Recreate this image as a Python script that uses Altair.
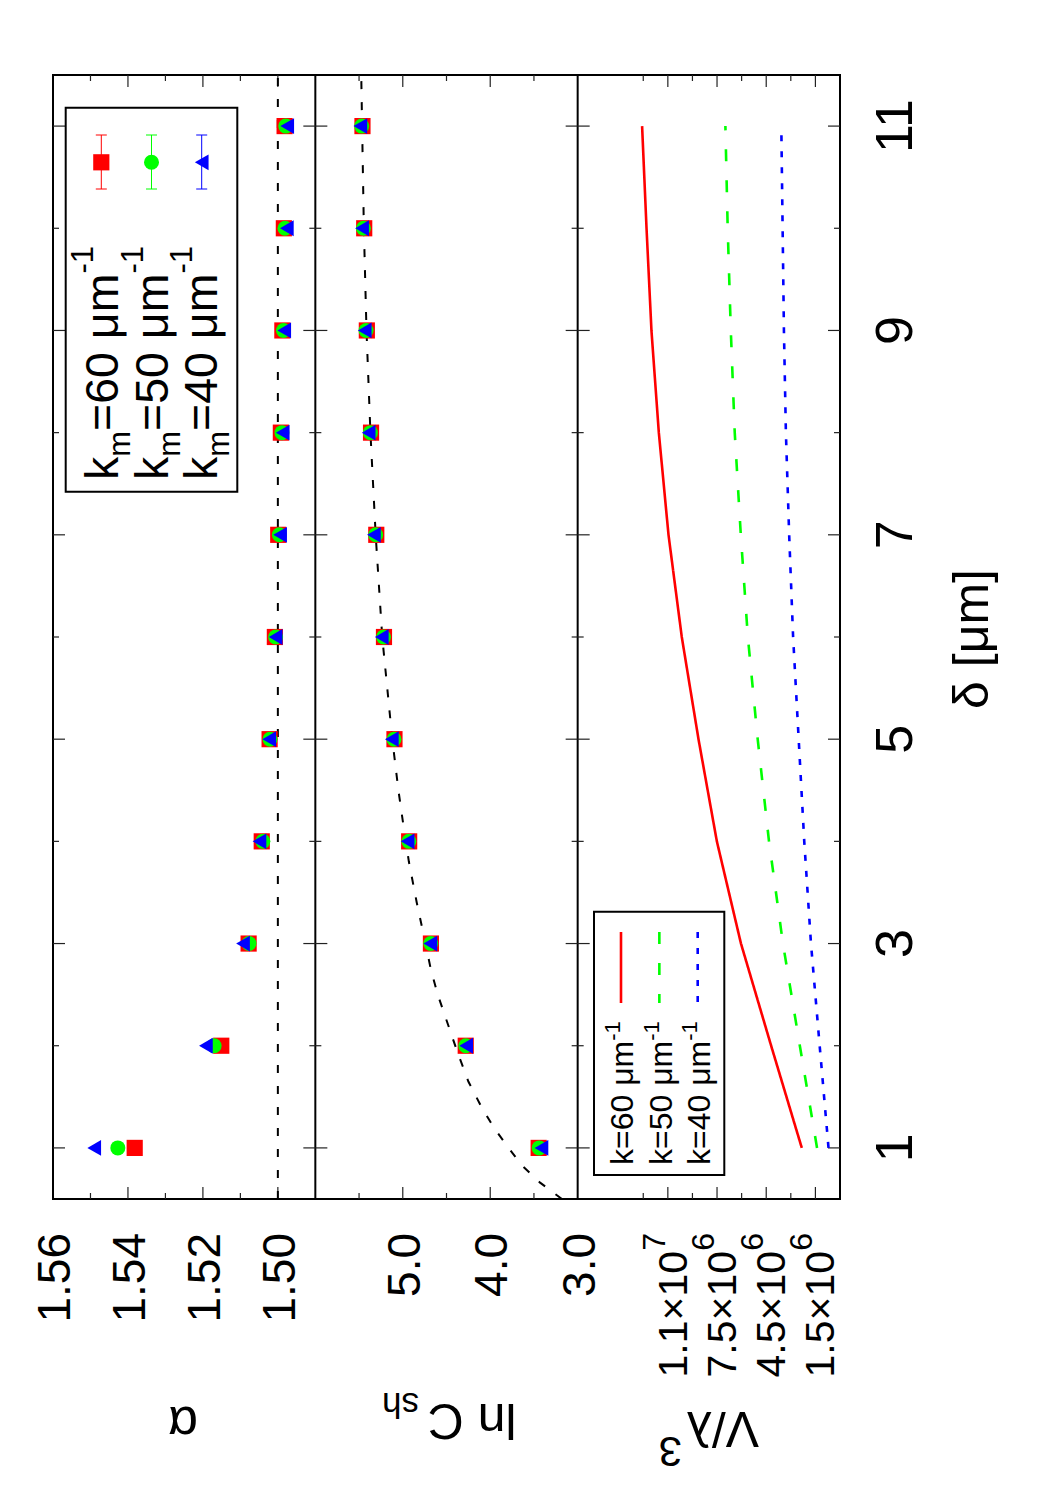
import altair as alt
import pandas as pd

# ---------------- data ----------------
delta = [1, 2, 3, 4, 5, 6, 7, 8, 9, 10, 11]

alpha_k60 = [1.5382, 1.5151, 1.5078, 1.5043, 1.5022, 1.5008, 1.4999, 1.4992, 1.4988, 1.4984, 1.4982]
alpha_k50 = [1.5427, 1.5170, 1.5077, 1.5040, 1.5021, 1.5006, 1.4996, 1.4989, 1.4985, 1.4981, 1.4979]
alpha_k40 = [1.5490, 1.5192, 1.5093, 1.5049, 1.5023, 1.5006, 1.4994, 1.4987, 1.4983, 1.4976, 1.4975]
alpha_ref_delta = [0.5, 11.5]
alpha_ref = [1.50, 1.50]

lnc_k60 = [3.446, 4.280, 4.678, 4.927, 5.095, 5.215, 5.303, 5.363, 5.411, 5.441, 5.461]
lnc_k50 = [3.440, 4.280, 4.680, 4.930, 5.100, 5.220, 5.310, 5.370, 5.420, 5.450, 5.470]
lnc_k40 = [3.414, 4.275, 4.685, 4.945, 5.125, 5.240, 5.330, 5.390, 5.435, 5.465, 5.485]

fit_delta = [0.5, 0.66, 0.83, 1.0, 1.2, 1.4, 1.65, 1.95, 2.2, 2.5, 2.75, 3.0, 3.4, 3.8,
             4.2, 4.5, 5.0, 6.0, 7.0, 8.0, 9.0, 10.0, 11.0, 11.5]
fit_lnc = [3.18, 3.43, 3.64, 3.79, 3.96, 4.10, 4.25, 4.38, 4.48, 4.60, 4.68, 4.74, 4.84, 4.93,
           5.00, 5.05, 5.12, 5.235, 5.31, 5.37, 5.415, 5.445, 5.465, 5.475]

vol_k60 = [2.33e6, 4.20e6, 6.04e6, 7.51e6, 8.63e6, 9.65e6, 10.46e6, 11.05e6, 11.50e6, 11.80e6, 12.07e6]
vol_k50 = [1.40e6, 2.45e6, 3.48e6, 4.33e6, 5.02e6, 5.62e6, 6.05e6, 6.42e6, 6.66e6, 6.85e6, 6.99e6]
vol_k40 = [0.70e6, 1.24e6, 1.77e6, 2.18e6, 2.52e6, 2.86e6, 3.10e6, 3.30e6, 3.42e6, 3.50e6, 3.58e6]

k_values = ["60", "50", "40"]
series_colors = ["#ff0000", "#00ff00", "#0000ff"]
point_shapes = ["square", "circle", "triangle-left"]
point_sizes = [262, 225, 250]
line_dashes = [[1, 0], [12, 19], [6, 10]]

delta_major = [1, 3, 5, 7, 9, 11]
delta_minor = [2, 4, 6, 8, 10]

alpha_major = [1.50, 1.52, 1.54]
alpha_minor = [1.51, 1.53, 1.55]
alpha_labels = ["1.50", "1.52", "1.54", "1.56"]
alpha_label_vals = [1.50, 1.52, 1.54, 1.56]

lnc_major = [4.0, 5.0]
lnc_minor = [3.5, 4.5, 5.5]
lnc_labels = ["3.0", "4.0", "5.0"]
lnc_label_vals = [3.0, 4.0, 5.0]

vol_major = [1.5e6, 4.5e6, 7.5e6, 10.5e6]
vol_minor = [3e6, 6e6, 9e6, 12e6]
vol_mantissa = ["1.5×10", "4.5×10", "7.5×10", "1.1×10"]
vol_exponent = ["6", "6", "6", "7"]

# ---------------- layout ----------------
W, H = 787, 1124
PW = W / 3
FONT = "Liberation Sans"
TICK = "#222222"
MAJ, MIN = 12, 6

y_sc = alt.Scale(domain=[0.5, 11.5], nice=False, zero=False)
a_sc = alt.Scale(domain=[1.49, 1.56], range=[PW, 0], nice=False, zero=False)
c_sc = alt.Scale(domain=[3.0, 6.0], range=[2 * PW, PW], nice=False, zero=False)
v_sc = alt.Scale(domain=[0, 1.6e7], range=[3 * PW, 2 * PW], nice=False, zero=False)

layers = []


def X(field, sc):
    return alt.X(f"{field}:Q", scale=sc, axis=None)


def Y(field="delta"):
    return alt.Y(f"{field}:Q", scale=y_sc, axis=None)


def txt(text, x, y, size, angle=0, align="left", baseline="alphabetic"):
    df = pd.DataFrame({"t": [text]})
    return alt.Chart(df).mark_text(
        font=FONT, fontSize=size, angle=angle, align=align, baseline=baseline, color="black"
    ).encode(text="t:N", x=alt.value(x), y=alt.value(y))


def one():
    return alt.Chart(pd.DataFrame({"a": [0]}))


# outer frame and panel dividers
layers.append(one().mark_rect(fill=None, stroke="black", strokeWidth=2).encode(
    x=alt.value(0), x2=alt.value(W), y=alt.value(0), y2=alt.value(H)))
for e in [PW, 2 * PW]:
    layers.append(one().mark_rule(color="black", strokeWidth=2).encode(
        x=alt.value(e), y=alt.value(0), y2=alt.value(H)))

# delta ticks on every panel edge, pointing inwards
for e in [0, PW, 2 * PW, W]:
    for vals, L in [(delta_major, MAJ), (delta_minor, MIN)]:
        df = pd.DataFrame({"delta": vals})
        if e < W:
            layers.append(alt.Chart(df).mark_rule(color=TICK, strokeWidth=1.2).encode(
                y=Y(), x=alt.value(e), x2=alt.value(e + L)))
        if e > 0:
            layers.append(alt.Chart(df).mark_rule(color=TICK, strokeWidth=1.2).encode(
                y=Y(), x=alt.value(e - L), x2=alt.value(e)))

# value ticks on top and bottom of each panel
for sc, major, minor in [(a_sc, alpha_major, alpha_minor), (c_sc, lnc_major, lnc_minor),
                         (v_sc, vol_major, vol_minor)]:
    for vals, L in [(major, MAJ), (minor, MIN)]:
        df = pd.DataFrame({"v": vals})
        layers.append(alt.Chart(df).mark_rule(color=TICK, strokeWidth=1.2).encode(
            x=X("v", sc), y=alt.value(0), y2=alt.value(L)))
        layers.append(alt.Chart(df).mark_rule(color=TICK, strokeWidth=1.2).encode(
            x=X("v", sc), y=alt.value(H - L), y2=alt.value(H)))

# reference line alpha = 1.5
layers.append(alt.Chart(pd.DataFrame({"delta": alpha_ref_delta, "v": alpha_ref})).mark_line(
    color="black", strokeWidth=2, strokeDash=[8, 13]).encode(x=X("v", a_sc), y=Y(), order="delta:Q"))

# fitted curve for ln C_sh
layers.append(alt.Chart(pd.DataFrame({"delta": fit_delta, "v": fit_lnc})).mark_line(
    color="black", strokeWidth=2, strokeDash=[8, 13]).encode(x=X("v", c_sc), y=Y(), order="delta:Q"))

# data points
for vals_a, vals_c, col, shp, sz in zip([alpha_k60, alpha_k50, alpha_k40], [lnc_k60, lnc_k50, lnc_k40],
                                        series_colors, point_shapes, point_sizes):
    for vals, sc in [(vals_a, a_sc), (vals_c, c_sc)]:
        df = pd.DataFrame({"delta": delta, "v": vals})
        layers.append(alt.Chart(df).mark_point(shape=shp, filled=True, color=col, size=sz, opacity=1,
                                               strokeWidth=0).encode(x=X("v", sc), y=Y()))

# volume curves
for vals, col, dash in zip([vol_k60, vol_k50, vol_k40], series_colors, line_dashes):
    df = pd.DataFrame({"delta": delta, "v": vals})
    layers.append(alt.Chart(df).mark_line(color=col, strokeWidth=2.6, strokeDash=dash).encode(
        x=X("v", v_sc), y=Y(), order="delta:Q"))

# tick labels
LAB_Y = H + 34
df = pd.DataFrame({"v": alpha_label_vals, "t": alpha_labels})
layers.append(alt.Chart(df).mark_text(font=FONT, fontSize=46, angle=270, align="right", baseline="middle",
                                      dy=3).encode(x=X("v", a_sc), y=alt.value(LAB_Y), text="t:N"))
df = pd.DataFrame({"v": lnc_label_vals, "t": lnc_labels})
layers.append(alt.Chart(df).mark_text(font=FONT, fontSize=46, angle=270, align="right", baseline="middle",
                                      dy=3).encode(x=X("v", c_sc), y=alt.value(LAB_Y), text="t:N"))
df = pd.DataFrame({"v": vol_major, "m": vol_mantissa, "e": vol_exponent})
layers.append(alt.Chart(df).mark_text(font=FONT, fontSize=32, angle=270, align="right",
                                      baseline="alphabetic", dy=-3).encode(
    x=X("v", v_sc), y=alt.value(LAB_Y), text="e:N"))
layers.append(alt.Chart(df).mark_text(font=FONT, fontSize=41, angle=270, align="right",
                                      baseline="alphabetic", dy=19).encode(
    x=X("v", v_sc), y=alt.value(LAB_Y + 18), text="m:N"))
df = pd.DataFrame({"delta": delta_major, "t": [str(d) for d in delta_major]})
layers.append(alt.Chart(df).mark_text(font=FONT, fontSize=52, angle=270, align="center",
                                      baseline="alphabetic").encode(
    y=Y(), x=alt.value(W + 72), text="t:N"))

# axis titles
layers.append(txt("α", 130, 1348, 52, angle=180, align="center", baseline="middle"))
layers.append(txt("ln C", 463.5, 1329, 50, angle=180))
layers.append(txt("sh", 366, 1318, 35, angle=180))
layers.append(txt("V/λ", 706, 1337, 50, angle=180))
layers.append(txt("3", 629, 1362, 42, angle=180))
layers.append(txt("δ [μm]", W + 148, 564, 50, angle=270, align="center"))

# ---------------- legend of the data points ----------------
ADV = {"k": .5, "m": .833, "=": .584, " ": .278, "μ": .576, "-": .333, "0": .556, "1": .556,
       "4": .556, "5": .556, "6": .556}


def advance(s, size):
    return sum(ADV.get(c, .556) for c in s) * size


layers.append(one().mark_rect(fill="white", stroke="black", strokeWidth=2).encode(
    x=alt.value(12.7), x2=alt.value(184.3), y=alt.value(32.7), y2=alt.value(416.7)))
for i, (k, col, shp, sz) in enumerate(zip(k_values, series_colors, point_shapes, point_sizes)):
    cx = 48.3 + 50.2 * i
    layers.append(one().mark_rule(color=col, strokeWidth=1).encode(
        x=alt.value(cx), y=alt.value(60), y2=alt.value(114)))
    for yy in (60, 114):
        layers.append(one().mark_rule(color=col, strokeWidth=1).encode(
            x=alt.value(cx - 5.5), x2=alt.value(cx + 5.5), y=alt.value(yy)))
    layers.append(one().mark_point(shape=shp, filled=True, color=col, size=sz, opacity=1, strokeWidth=0).encode(
        x=alt.value(cx), y=alt.value(87.3)))
    bx = 65 + 49.7 * i
    yy = 405
    for piece, size, shift in [("k", 46.5, 0), ("m", 31, 12), (f"={k} μm", 46.5, 0), ("-1", 31, -25)]:
        layers.append(txt(piece, bx + shift, yy, size, angle=270))
        yy -= advance(piece, size)

# ---------------- legend of the volume curves ----------------
layers.append(one().mark_rect(fill="white", stroke="black", strokeWidth=2).encode(
    x=alt.value(541), x2=alt.value(671.3), y=alt.value(836.7), y2=alt.value(1100)))
for i, (k, col, dash) in enumerate(zip(k_values, series_colors, line_dashes)):
    cx = 568 + 38.35 * i
    layers.append(one().mark_rule(color=col, strokeWidth=2.6, strokeDash=dash).encode(
        x=alt.value(cx), y=alt.value(857), y2=alt.value(928)))
    bx = 580 + 38.5 * i
    main = f"k={k} μm"
    layers.append(txt(main, bx, 1090, 32, angle=270))
    layers.append(txt("-1", bx - 13, 1090 - advance(main, 32), 22, angle=270))

chart = alt.layer(*layers).resolve_scale(x="independent").properties(
    width=W, height=H,
    background="white",
    padding={"left": 53, "top": 75, "right": 210, "bottom": 301},
    autosize=alt.AutoSizeParams(type="none"),
).configure_view(stroke=None)

chart.save("out.html", embed_options={"renderer": "svg", "actions": False})
